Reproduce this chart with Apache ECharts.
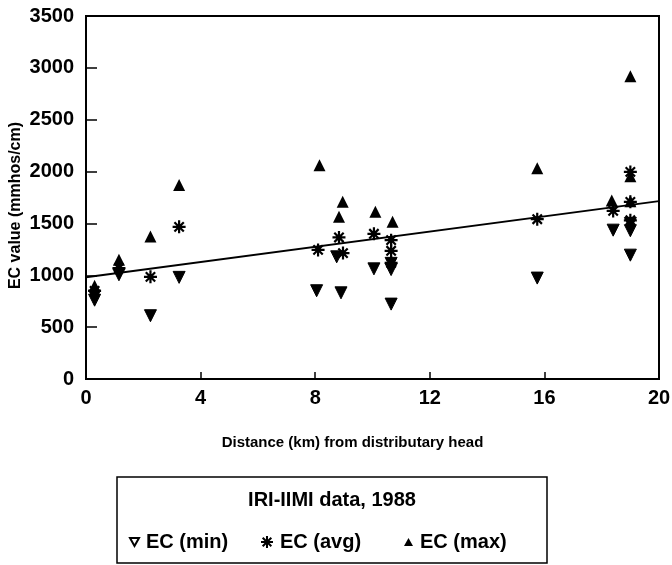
<!DOCTYPE html>
<html>
<head>
<meta charset="utf-8">
<script src="https://cdn.jsdelivr.net/npm/echarts@6/dist/echarts.min.js"></script>
<style>
  html, body { margin: 0; padding: 0; background: #fff; }
  #chart { width: 672px; height: 565px; }
</style>
</head>
<body>
<div id="chart"></div>
<script>
// ---- data ----
const xTicks = [0, 4, 8, 12, 16, 20];
const yTicks = [0, 500, 1000, 1500, 2000, 2500, 3000, 3500];

const minDist = [0.3, 0.3, 1.15, 2.25, 3.25, 8.05, 8.75, 8.9, 10.05, 10.65, 10.65, 10.65, 15.75, 18.4, 19.0, 19.0, 19.0];
const minEC   = [800, 760, 1005, 610, 980, 851, 1178, 831, 1062, 1115, 1055, 722, 973, 1435, 1500, 1430, 1194];

const avgDist = [0.3, 1.15, 2.25, 3.25, 8.1, 8.83, 8.97, 10.05, 10.65, 10.65, 10.65, 15.75, 18.4, 19.0, 19.0, 19.0];
const avgEC   = [850, 1070, 985, 1467, 1245, 1365, 1214, 1400, 1339, 1236, 1120, 1541, 1621, 1997, 1708, 1530];

const maxDist = [0.3, 1.15, 2.25, 3.25, 8.15, 8.96, 8.83, 10.1, 10.7, 15.75, 18.35, 19.0, 19.0, 19.0];
const maxEC   = [900, 1150, 1375, 1870, 2062, 1708, 1564, 1612, 1515, 2033, 1722, 1955, 1715, 2920];

const trendDist = [0, 20];
const trendEC   = [980, 1715];

const zip = (a, b) => a.map((v, i) => [v, b[i]]);

const FONT = '"Liberation Sans", Arial, sans-serif';
const downTri = 'path://M-5,-4 L5,-4 L0,5 Z';
const upTri = 'path://M-5,4 L5,4 L0,-5 Z';
const w = 0.85, d = w * 0.707;
const star = 'path://' +
  `M-5,${-w} L5,${-w} L5,${w} L-5,${w} Z ` +
  `M${w},-5 L${w},5 L${-w},5 L${-w},-5 Z ` +
  `M${-3.6 + d},${-3.6 - d} L${3.6 + d},${3.6 - d} L${3.6 - d},${3.6 + d} L${-3.6 - d},${-3.6 + d} Z ` +
  `M${3.6 + d},${-3.6 + d} L${-3.6 + d},${3.6 + d} L${-3.6 - d},${3.6 - d} L${3.6 - d},${-3.6 - d} Z`;

const chart = echarts.init(document.getElementById('chart'), null, { renderer: 'canvas' });

const legendBase = {
  top: 527, itemWidth: 12, itemHeight: 12, itemGap: 0,
  textStyle: { fontFamily: FONT, fontWeight: 'bold', fontSize: 20, color: '#000', padding: [0, 0, 0, 2] },
  selectedMode: false
};

chart.setOption({
  animation: false,
  backgroundColor: '#fff',
  grid: { left: 86, right: 13, top: 16, bottom: 186, containLabel: false, outerBoundsMode: 'none',
          show: true, borderColor: '#000', borderWidth: 2 },
  xAxis: {
    type: 'value', min: xTicks[0], max: xTicks[xTicks.length - 1], interval: 4,
    name: 'Distance (km) from distributary head', nameLocation: 'middle', nameGap: 56,
    nameTextStyle: { fontFamily: FONT, fontWeight: 'bold', fontSize: 15, color: '#000', padding: [0, 40, 0, 0] },
    axisLine: { lineStyle: { color: '#000', width: 2 } },
    axisTick: { inside: true, length: 7, lineStyle: { color: '#000', width: 1.5 } },
    axisLabel: { margin: 9, fontFamily: FONT, fontWeight: 'bold', fontSize: 20, color: '#000',
                 formatter: v => String(v) },
    splitLine: { show: false }
  },
  yAxis: {
    type: 'value', min: yTicks[0], max: yTicks[yTicks.length - 1], interval: 500,
    name: 'EC value (mmhos/cm)', nameLocation: 'middle', nameGap: 62, nameMoveOverlap: false,
    nameTextStyle: { fontFamily: FONT, fontWeight: 'bold', fontSize: 16, color: '#000', padding: [0, 16, 0, 0] },
    axisLine: { lineStyle: { color: '#000', width: 2 } },
    axisTick: { inside: true, length: 11, lineStyle: { color: '#000', width: 1.5 } },
    axisLabel: { margin: 12, fontFamily: FONT, fontWeight: 'bold', fontSize: 20, color: '#000',
                 formatter: v => String(v) },
    splitLine: { show: false }
  },
  graphic: [
    { type: 'rect', shape: { x: 117, y: 477, width: 430, height: 86 },
      style: { fill: '#fff', stroke: '#000', lineWidth: 1.5 }, z: -1 },
    { type: 'text', x: 332, y: 500,
      style: { text: 'IRI-IIMI data, 1988', font: 'bold 20px ' + FONT, fill: '#000', textAlign: 'center', textVerticalAlign: 'middle' } }
  ],
  legend: [
    Object.assign({}, legendBase, { left: 124, data: [{ name: 'EC (min)', icon: downTri, itemStyle: { color: '#fff', borderColor: '#000', borderWidth: 2 } }], itemWidth: 9, itemHeight: 9 }),
    Object.assign({}, legendBase, { left: 256, data: [{ name: 'EC (avg)', icon: star }] }),
    Object.assign({}, legendBase, { left: 399, data: [{ name: 'EC (max)', icon: upTri }], itemWidth: 9, itemHeight: 9 })
  ],
  series: [
    {
      name: 'trend', type: 'line', data: zip(trendDist, trendEC), symbol: 'none',
      lineStyle: { color: '#000', width: 2 }, z: 1, silent: true
    },
    {
      name: 'EC (min)', type: 'scatter', data: zip(minDist, minEC),
      symbol: downTri, symbolSize: 12,
      itemStyle: { color: '#000', borderColor: '#000', borderWidth: 1, opacity: 1 }, z: 3
    },
    {
      name: 'EC (avg)', type: 'scatter', data: zip(avgDist, avgEC),
      symbol: star, symbolSize: 13,
      itemStyle: { color: '#000', opacity: 1 }, z: 4
    },
    {
      name: 'EC (max)', type: 'scatter', data: zip(maxDist, maxEC),
      symbol: upTri, symbolSize: 12,
      itemStyle: { color: '#000', opacity: 1 }, z: 3
    }
  ]
});
</script>
</body>
</html>
